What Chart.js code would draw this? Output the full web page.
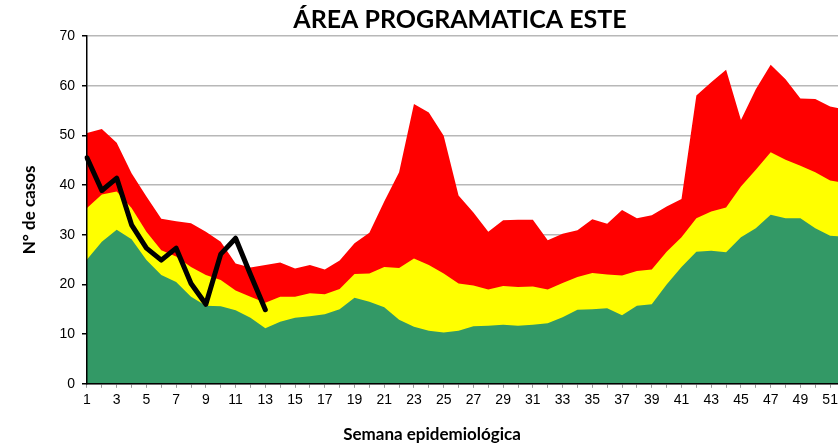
<!DOCTYPE html>
<html>
<head>
<meta charset="utf-8">
<script src="https://cdn.jsdelivr.net/npm/chart.js@4.4.0/dist/chart.umd.min.js"></script>
<style>
  html, body { margin: 0; padding: 0; overflow: hidden; background: #fff; }
  #wrap { width: 852px; height: 446px; position: relative; }
</style>
</head>
<body>
<div id="wrap"><canvas id="grafico"></canvas></div>
<script>
var semanas = ['1','2','3','4','5','6','7','8','9','10','11','12','13','14','15','16','17','18','19','20','21','22','23','24','25','26',
  '27','28','29','30','31','32','33','34','35','36','37','38','39','40','41','42','43','44','45','46','47','48','49','50','51','52'];

// canal endemico (limites superiores de cada zona)
var zonaExito = [25.0, 28.6, 31.0, 29.1, 24.9, 21.9, 20.5, 17.5, 15.7, 15.6, 14.8, 13.3, 11.2, 12.5, 13.3, 13.6, 14.0, 15.0, 17.3, 16.5,
  15.4, 12.9, 11.5, 10.7, 10.3, 10.7, 11.6, 11.7, 11.9, 11.7, 11.9, 12.2, 13.4, 14.9, 15.0, 15.2, 13.8, 15.7, 16.0, 20.0,
  23.5, 26.6, 26.8, 26.5, 29.5, 31.3, 34.0, 33.3, 33.3, 31.3, 29.8, 29.6];
var zonaSeguridad = [35.4, 38.1, 38.7, 35.4, 30.6, 26.9, 25.6, 23.5, 21.9, 20.9, 18.8, 17.5, 16.3, 17.5, 17.5, 18.2, 18.0, 19.1, 22.1, 22.2,
  23.5, 23.3, 25.2, 23.9, 22.2, 20.2, 19.8, 19.0, 19.7, 19.5, 19.6, 19.0, 20.3, 21.5, 22.3, 22.0, 21.8, 22.7, 23.0, 26.6,
  29.5, 33.3, 34.7, 35.5, 39.7, 43.1, 46.6, 45.1, 43.9, 42.6, 40.9, 40.4];
var zonaAlerta = [50.5, 51.3, 48.5, 42.4, 37.7, 33.2, 32.7, 32.3, 30.6, 28.6, 24.2, 23.4, 23.9, 24.4, 23.2, 23.9, 23.0, 24.8, 28.3, 30.4,
  36.7, 42.6, 56.3, 54.6, 49.9, 37.9, 34.5, 30.6, 32.9, 33.0, 33.0, 28.9, 30.2, 30.9, 33.1, 32.2, 35.0, 33.3, 33.9, 35.7,
  37.2, 58.0, 60.7, 63.2, 53.1, 59.3, 64.2, 61.3, 57.4, 57.3, 55.8, 55.2];
var casosActuales = [45.5, 38.9, 41.4, 32.0, 27.3, 24.9, 27.3, 20.2, 16.0, 26.1, 29.3, 22.0, 14.9];

var titulo = 'ÁREA PROGRAMATICA ESTE';

// titulo centrado sobre el area del grafico, como en Excel
var tituloPlugin = {
  id: 'tituloArea',
  afterDraw: function(chart) {
    var ctx = chart.ctx;
    var a = chart.chartArea;
    ctx.save();
    ctx.font = 'bold 25px Lato, "Open Sans", sans-serif';
    ctx.fillStyle = '#000';
    ctx.textAlign = 'center';
    ctx.textBaseline = 'middle';
    ctx.fillText(titulo, (a.left + a.right) / 2 - 6, 20);
    ctx.restore();
  }
};

function areaDataset(nombre, datos, color) {
  return {
    label: nombre,
    data: datos,
    backgroundColor: color,
    borderWidth: 0,
    pointRadius: 0,
    fill: 'origin',
    tension: 0
  };
}

new Chart(document.getElementById('grafico'), {
  type: 'line',
  data: {
    labels: semanas,
    datasets: [
      {
        label: 'Casos',
        data: casosActuales,
        borderColor: '#000',
        borderWidth: 5,
        pointRadius: 0,
        fill: false,
        tension: 0,
        borderJoinStyle: 'round',
        borderCapStyle: 'round'
      },
      areaDataset('Exito', zonaExito, '#339966'),
      areaDataset('Seguridad', zonaSeguridad, '#ffff00'),
      areaDataset('Alerta', zonaAlerta, '#ff0000')
    ]
  },
  options: {
    responsive: true,
    maintainAspectRatio: false,
    animation: false,
    layout: { padding: { top: 36, left: 19, right: 7, bottom: 0 } },
    plugins: {
      legend: { display: false },
      tooltip: { enabled: false },
      title: {
        display: true,
        position: 'bottom',
        text: 'Semana epidemiológica',
        color: '#000',
        font: { family: 'Lato, "Open Sans", sans-serif', size: 17, weight: 'bold' },
        padding: { top: 12, bottom: 1 }
      }
    },
    scales: {
      x: {
        offset: false,
        border: { display: true, color: '#000', width: 1.5, z: 1 },
        grid: { display: true, drawOnChartArea: false, drawTicks: true, tickLength: 4, color: '#999999', lineWidth: 1, z: -1 },
        ticks: {
          autoSkip: false,
          maxRotation: 0,
          color: '#000',
          padding: 4,
          font: { family: '"Liberation Sans", Arial, sans-serif', size: 14 },
          callback: function(val, i) {
            return i % 2 === 0 ? semanas[i] : '';
          }
        }
      },
      y: {
        min: 0,
        max: 70,
        border: { display: true, color: '#000', width: 1.5, z: 1 },
        grid: {
          display: true,
          drawOnChartArea: true,
          drawTicks: true,
          color: '#b8b8b8',
          lineWidth: 1.5,
          tickLength: 5,
          tickColor: '#000',
          tickWidth: 1.5,
          z: -1
        },
        ticks: {
          stepSize: 10,
          color: '#000',
          padding: 7,
          font: { family: '"Liberation Sans", Arial, sans-serif', size: 14 }
        },
        title: {
          display: true,
          text: 'N° de casos',
          color: '#000',
          font: { family: 'Lato, "Open Sans", sans-serif', size: 17, weight: 'bold' },
          padding: { top: 0, bottom: 13 }
        }
      }
    }
  },
  plugins: [tituloPlugin]
});
</script>
</body>
</html>
